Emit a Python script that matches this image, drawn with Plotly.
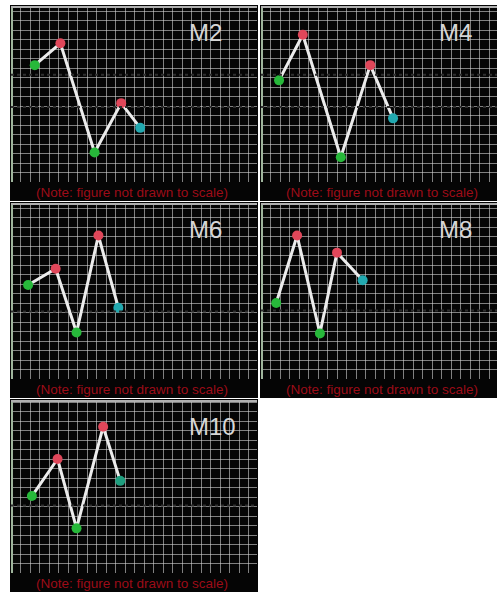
import plotly.graph_objects as go

# Canvas size in pixels
W, H = 497, 592

# Series per panel (grid units: x to the right, y up from the bottom of each grid)
labels = ["M2", "M4", "M6", "M8", "M10"]
x_m2 = [2.5, 5.2, 8.8, 11.6, 13.6]
y_m2 = [12.3, 14.6, 3.1, 8.3, 5.7]
x_m4 = [1.9, 4.4, 8.4, 11.5, 13.9]
y_m4 = [10.7, 15.5, 2.6, 12.3, 6.7]
x_m6 = [1.8, 4.7, 6.9, 9.2, 11.3]
y_m6 = [9.9, 11.6, 4.9, 15.1, 7.5]
x_m8 = [1.6, 3.8, 6.2, 8.0, 10.7]
y_m8 = [8.0, 15.1, 4.8, 13.3, 10.4]
x_m10 = [2.2, 4.9, 6.9, 9.7, 11.5]
y_m10 = [8.1, 12.0, 4.7, 15.4, 9.7]

# Dotted reference levels per panel
ref_m2 = [11.3, 7.9]
ref_m4 = [11.3, 7.9]
ref_m6 = [7.1]
ref_m8 = [7.2]
ref_m10 = [7.1]

note_text = "(Note: figure not drawn to scale)"

GREEN = "#27b83a"
RED = "#e0475a"
CYAN = "#22a9b0"
TEAL = "#1f9f7f"
point_colors = [
    [GREEN, RED, GREEN, RED, CYAN],
    [GREEN, RED, GREEN, RED, CYAN],
    [GREEN, RED, GREEN, RED, CYAN],
    [GREEN, RED, GREEN, RED, CYAN],
    [GREEN, RED, GREEN, RED, TEAL],
]

series = [
    (x_m2, y_m2, ref_m2),
    (x_m4, y_m4, ref_m4),
    (x_m6, y_m6, ref_m6),
    (x_m8, y_m8, ref_m8),
    (x_m10, y_m10, ref_m10),
]

# Panel layout in pixels: (left, right, grid top, grid bottom, strip bottom)
CELL = 9.5
cols = [(11, 257), (261, 497)]
rows = [(6, 182, 201), (203, 379, 398), (400, 573, 592)]
placement = [(0, 0), (0, 1), (1, 0), (1, 1), (2, 0)]


def px(xp):
    return xp / W


def py(yp):
    return 1 - yp / H


fig = go.Figure()
shapes = []
annotations = []

for i, (label, (xs, ys, refs)) in enumerate(zip(labels, series)):
    r, c = placement[i]
    x0, x1 = cols[c]
    top, bottom, strip_bottom = rows[r]
    n = i + 1
    xa = "x" if n == 1 else f"x{n}"
    ya = "y" if n == 1 else f"y{n}"
    xkey = "xaxis" if n == 1 else f"xaxis{n}"
    ykey = "yaxis" if n == 1 else f"yaxis{n}"

    axis_common = dict(
        showgrid=True,
        gridcolor="rgba(210,210,210,0.6)",
        gridwidth=1,
        dtick=1,
        tick0=0,
        showticklabels=False,
        ticks="",
        zeroline=False,
        showline=False,
        fixedrange=True,
    )
    fig.update_layout(**{
        xkey: dict(axis_common, domain=[px(x0), px(x1)],
                   range=[0, (x1 - x0) / CELL], anchor=ya),
        ykey: dict(axis_common, domain=[py(bottom), py(top)],
                   range=[0, (bottom - top) / CELL], anchor=xa),
    })

    # black panel backing, including the caption strip
    shapes.append(dict(type="rect", xref="paper", yref="paper",
                       x0=px(x0 - 1), x1=px(x1 + 1), y0=py(strip_bottom), y1=py(top - 1),
                       fillcolor="#050505", line=dict(width=0), layer="below"))
    # light frame on the left and top edges
    shapes.append(dict(type="line", xref="paper", yref="paper",
                       x0=px(x0 + 1), x1=px(x0 + 1), y0=py(bottom), y1=py(top),
                       line=dict(color="#9fb59c", width=2)))
    shapes.append(dict(type="line", xref="paper", yref="paper",
                       x0=px(x0), x1=px(x1), y0=py(top + 1), y1=py(top + 1),
                       line=dict(color="#b0b0b0", width=2)))

    # dotted reference levels
    for lv in refs:
        shapes.append(dict(type="line", xref=f"{xa} domain", yref=ya,
                           x0=0, x1=1, y0=lv, y1=lv,
                           line=dict(color="#2e2e2e", width=2, dash="dot")))

    fig.add_trace(go.Scatter(
        x=xs, y=ys, xaxis=xa, yaxis=ya, mode="lines+markers",
        line=dict(color="#ececec", width=3),
        marker=dict(color=point_colors[i], size=10, line=dict(width=0)),
        hoverinfo="skip", showlegend=False,
    ))

    annotations.append(dict(
        text=label, xref="paper", yref="paper",
        x=px(x0 + 176), y=py(top + 11), xanchor="left", yanchor="top",
        showarrow=False, font=dict(family="Arial, Liberation Sans", size=24, color="#d6d6d6"),
    ))
    annotations.append(dict(
        text=note_text, xref="paper", yref="paper",
        x=px(x0 + 121), y=py((bottom + strip_bottom) / 2 + 1),
        xanchor="center", yanchor="middle", showarrow=False,
        font=dict(family="Arial, Liberation Sans", size=13.5, color="#9c0c18"),
    ))

fig.update_layout(
    width=W, height=H,
    margin=dict(l=0, r=0, t=0, b=0),
    paper_bgcolor="white",
    plot_bgcolor="#050505",
    shapes=shapes,
    annotations=annotations,
    showlegend=False,
)

fig.write_html("out.html")
